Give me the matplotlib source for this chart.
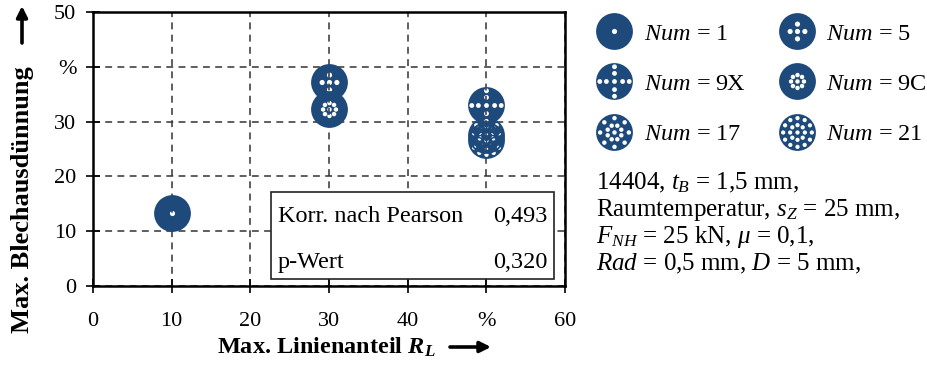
import matplotlib
matplotlib.use("Agg")
import matplotlib.pyplot as plt
import numpy as np
from matplotlib.path import Path
from matplotlib.lines import Line2D
from matplotlib.patches import Rectangle

plt.rcParams['font.family'] = ['Liberation Serif', 'DejaVu Serif']
plt.rcParams['mathtext.fontset'] = 'custom'
plt.rcParams['mathtext.rm'] = 'Liberation Serif'
plt.rcParams['mathtext.it'] = 'Liberation Serif:italic'
plt.rcParams['mathtext.bf'] = 'Liberation Serif:italic:bold'

# =========================
# DATEN
# =========================
linienanteil = [10, 30, 30, 50, 50, 50]
ausduennung = [13.4, 37.2, 32.3, 33.1, 27.6, 26.6]
num = ['1', '5', '9C', '9X', '17', '21']

legende_reihenfolge = ['1', '9X', '17', '5', '9C', '21']

x_ticks = [0, 10, 20, 30, 40, 50, 60]
x_labels = ['0', '10', '20', '30', '40', '%', '60']
y_ticks = [0, 10, 20, 30, 40, 50]
y_labels = ['0', '10', '20', '30', '%', '50']

korr_pearson = '0,493'
p_wert = '0,320'

info_zeilen = [
    '14404, $t_B$ = 1,5 mm,',
    'Raumtemperatur, $s_Z$ = 25 mm,',
    '$F_{NH}$ = 25 kN, $\\mu$ = 0,1,',
    '$Rad$ = 0,5 mm, $D$ = 5 mm,',
]

blau = '#1d4a7a'


# =========================
# MARKER MIT LOCHMUSTER
# =========================
def ring(n, r, start=0.0):
    return [(r * np.cos(start + 2 * np.pi * k / n), r * np.sin(start + 2 * np.pi * k / n)) for k in range(n)]


muster = {
    '1': ([(0, 0)], 0.14),
    '5': ([(0, 0)] + ring(4, 0.40, np.pi / 2), 0.14),
    '9X': ([(0, 0)] + ring(4, 0.44, np.pi / 2) + ring(4, 0.80, np.pi / 2), 0.13),
    '9C': ([(0, 0)] + ring(8, 0.35, np.pi / 2), 0.12),
    '17': ([(0, 0)] + ring(8, 0.40, np.pi / 8) + ring(8, 0.78, np.pi / 2), 0.12),
    '21': ([(0, 0)] + ring(8, 0.40, np.pi / 2) + ring(12, 0.78, np.pi / 2), 0.115),
}


def lochmarker(key):
    punkte, r_loch = muster[key]
    kreis = Path.unit_circle()
    verts = [kreis.vertices]
    codes = [kreis.codes]
    for (hx, hy) in punkte:
        c = Path.circle((hx, hy), r_loch)
        v = c.vertices[:-1][::-1]
        v = np.vstack([v, v[:1]])
        verts.append(v)
        codes.append(c.codes)
    return Path(np.vstack(verts), np.concatenate(codes))


fig = plt.figure(figsize=(9.27, 3.66), dpi=100)
ax = fig.add_axes([0.1003, 0.2186, 0.5092, 0.7484])

ms = 26.5
for xi, yi, n in zip(linienanteil, ausduennung, num):
    ax.plot([xi], [yi], linestyle='none', marker=lochmarker(n), markersize=ms,
            color=blau, markeredgewidth=0, zorder=3)

ax.set_xlim(0, 60)
ax.set_ylim(0, 50)
ax.set_xticks(x_ticks)
ax.set_xticklabels(x_labels)
ax.set_yticks(y_ticks)
ax.set_yticklabels(y_labels)
ax.tick_params(direction='inout', length=10, width=1.2, labelsize=16)
ax.tick_params(axis='x', pad=14)
ax.tick_params(axis='y', pad=7)
for spine in ax.spines.values():
    spine.set_linewidth(1.8)
ax.grid(True, color='#333333', linestyle=(0, (4.5, 3.5)), linewidth=1.1)
ax.set_axisbelow(True)

# Achsentitel mit Pfeil
fig.text(217 / 927, 1 - 347 / 366, 'Max. Linienanteil $\\mathbf{R_L}$', fontsize=17.5,
         fontweight='bold', ha='left', va='center')
fig.text(23 / 927, 1 - 333 / 366, 'Max. Blechausdünnung', fontsize=19,
         fontweight='bold', ha='center', va='bottom', rotation=90)
pfeil = dict(arrowstyle='-|>', lw=2.6, color='black', mutation_scale=16, shrinkA=0, shrinkB=0)
fig.patches  # nur Figur-Koordinaten
ax.annotate('', xy=(491 / 927, 1 - 347 / 366), xytext=(450 / 927, 1 - 347 / 366),
            xycoords='figure fraction', textcoords='figure fraction', arrowprops=pfeil,
            annotation_clip=False)
ax.annotate('', xy=(22 / 927, 1 - 6 / 366), xytext=(22 / 927, 1 - 43 / 366),
            xycoords='figure fraction', textcoords='figure fraction', arrowprops=pfeil,
            annotation_clip=False)

# =========================
# STATISTIK-BOX
# =========================
ax.add_patch(Rectangle((0.377, 0.027), 0.6, 0.317, transform=ax.transAxes,
                       facecolor='white', edgecolor='#222222', linewidth=1.2, zorder=5))
ax.text(0.392, 0.255, 'Korr. nach Pearson', transform=ax.transAxes, fontsize=17.5, va='center', zorder=6)
ax.text(0.962, 0.255, korr_pearson, transform=ax.transAxes, fontsize=17.5, va='center', ha='right', zorder=6)
ax.text(0.392, 0.087, 'p-Wert', transform=ax.transAxes, fontsize=17.5, va='center', zorder=6)
ax.text(0.962, 0.087, p_wert, transform=ax.transAxes, fontsize=17.5, va='center', ha='right', zorder=6)

# =========================
# LEGENDE
# =========================
handles = [Line2D([], [], linestyle='none', marker=lochmarker(k), markersize=ms,
                  color=blau, markeredgewidth=0) for k in legende_reihenfolge]
labels = ['$Num$ = ' + k for k in legende_reihenfolge]
fig.legend(handles, labels, loc='upper left', bbox_to_anchor=(0.63, 0.985), ncol=2,
           frameon=False, fontsize=17.5, handlelength=1.1, handletextpad=0.65,
           labelspacing=1.17, columnspacing=1.6, borderaxespad=0.3)

# =========================
# INFOTEXT
# =========================
for i, zeile in enumerate(info_zeilen):
    fig.text(0.643, 0.50 - i * 0.074, zeile, fontsize=18, va='center')

fig.savefig('out.png', dpi=100)
